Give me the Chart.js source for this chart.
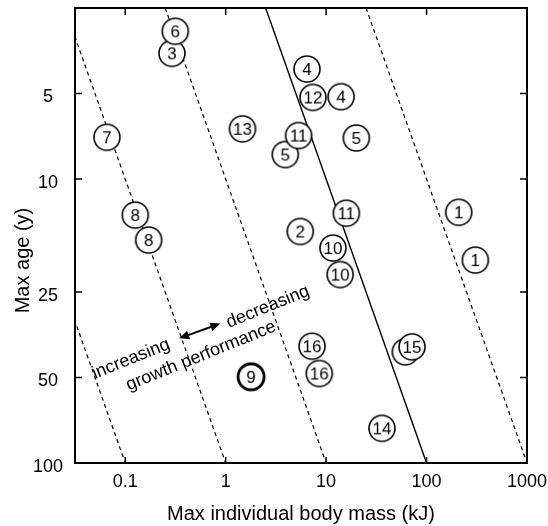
<!DOCTYPE html>
<html><head><meta charset="utf-8">
<script src="https://cdn.jsdelivr.net/npm/chart.js@4/dist/chart.umd.min.js"></script>
<style>html,body{margin:0;padding:0;background:#fff}#wrap{width:548px;height:526px;position:relative}</style>
</head><body><div id="wrap"><canvas id="c" width="548" height="526"></canvas></div>
<script>
// ---- data ----
const pointLabels = ['14','9','16','16','','15','10','10','2','1','1','11','8','8','5','11','5','7','13','12','4','4','3','6'];
const pointMass   = [36.0,1.79,8.55,7.24,61.5,71.7,13.8,11.7,5.53,306,209,15.9,0.171,0.126,3.92,5.32,20.0,0.0657,1.47,7.40,14.1,6.45,0.292,0.315];
const pointAge    = [75.5,49.7,48.4,38.8,40.6,39.0,21.7,17.5,15.3,19.3,13.1,13.2,16.4,13.4,8.20,7.03,7.17,7.13,6.66,5.16,5.13,4.10,3.61,3.02];
const boldLabels  = ['9'];
const xTickValues = [0.1,1,10,100,1000];
const yTickValues = [5,10,25,50,100];
const guideStartMass = [0.0025,0.025,0.25,2.5,25];
const guideEndMass   = [0.1,1,10,100,1000];
const guideAges      = [2.5,100];
const guideSolid     = [false,false,false,true,false];
const noteTexts = ['increasing','decreasing','growth performance'];
const noteMass  = [0.1143,2.63,0.569];
const noteAge   = [43.0,28.2,42.0];
const arrowMass = [0.345,0.884];
const arrowAge  = [36.4,32.3];

const FONT = "'Liberation Sans', Arial, Helvetica, sans-serif";
const INK = '#000';

function makeMarker(label, bold){
  const c = document.createElement('canvas');
  c.width = 34; c.height = 34;
  const g = c.getContext('2d');
  g.beginPath(); g.arc(17,17,13,0,Math.PI*2);
  g.fillStyle = '#fff'; g.fill();
  g.lineWidth = bold ? 2.8 : 1.6; g.strokeStyle = INK; g.stroke();
  g.fillStyle = INK; g.font = '17px ' + FONT;
  g.textAlign = 'center'; g.textBaseline = 'middle';
  g.fillText(label, 17, 18);
  return c;
}

const points = pointMass.map((m,i)=>({x:m, y:pointAge[i]}));
const markers = pointLabels.map(l => makeMarker(l, boldLabels.includes(l)));

const datasets = [{
  label: 'sites',
  data: points,
  pointStyle: markers,
  pointRadius: 13,
  order: 0
}];
guideStartMass.forEach((m,i)=>{
  datasets.push({
    label: 'guide'+i,
    data: [{x:m, y:guideAges[0]},{x:guideEndMass[i], y:guideAges[1]}],
    showLine: true,
    pointRadius: 0,
    borderColor: INK,
    borderWidth: guideSolid[i] ? 1.4 : 1.2,
    borderDash: guideSolid[i] ? [] : [4,3.5],
    order: 1
  });
});

const framePlugin = {
  id: 'frame',
  afterDatasetsDraw(chart){
    const {ctx, chartArea:a, scales:{x, y}} = chart;
    ctx.save();
    // annotations
    ctx.fillStyle = INK; ctx.font = '18px ' + FONT;
    ctx.textAlign = 'center'; ctx.textBaseline = 'middle';
    noteTexts.forEach((t,i)=>{
      const px = x.getPixelForValue(noteMass[i]), py = y.getPixelForValue(noteAge[i]);
      ctx.save(); ctx.translate(px,py); ctx.rotate(-22*Math.PI/180); ctx.fillText(t,0,0); ctx.restore();
    });
    // double arrow
    const x1 = x.getPixelForValue(arrowMass[0]), y1 = y.getPixelForValue(arrowAge[0]);
    const x2 = x.getPixelForValue(arrowMass[1]), y2 = y.getPixelForValue(arrowAge[1]);
    const ang = Math.atan2(y2-y1, x2-x1);
    const L = 10, W = 4.5;
    ctx.strokeStyle = INK; ctx.lineWidth = 2;
    ctx.beginPath();
    ctx.moveTo(x1 + Math.cos(ang)*L*0.8, y1 + Math.sin(ang)*L*0.8);
    ctx.lineTo(x2 - Math.cos(ang)*L*0.8, y2 - Math.sin(ang)*L*0.8);
    ctx.stroke();
    function head(hx,hy,dir){
      ctx.beginPath();
      ctx.moveTo(hx,hy);
      ctx.lineTo(hx - Math.cos(dir)*L + Math.sin(dir)*W, hy - Math.sin(dir)*L - Math.cos(dir)*W);
      ctx.lineTo(hx - Math.cos(dir)*L - Math.sin(dir)*W, hy - Math.sin(dir)*L + Math.cos(dir)*W);
      ctx.closePath(); ctx.fill();
    }
    head(x2,y2,ang); head(x1,y1,ang+Math.PI);
    // frame
    ctx.lineWidth = 2; ctx.strokeStyle = INK;
    ctx.strokeRect(a.left, a.top, a.right-a.left, a.bottom-a.top);
    ctx.lineWidth = 1.5;
    ctx.beginPath();
    xTickValues.forEach(v=>{
      const p = x.getPixelForValue(v);
      ctx.moveTo(p, a.bottom); ctx.lineTo(p, a.bottom-6);
      ctx.moveTo(p, a.top); ctx.lineTo(p, a.top+7);
    });
    yTickValues.forEach(v=>{
      const p = y.getPixelForValue(v);
      ctx.moveTo(a.left, p); ctx.lineTo(a.left+7, p);
      ctx.moveTo(a.right, p); ctx.lineTo(a.right-7, p);
    });
    ctx.stroke();
    // y title
    ctx.font = '20px ' + FONT; ctx.fillStyle = INK;
    ctx.translate(23, a.top + (a.bottom-a.top)*0.555);
    ctx.rotate(-Math.PI/2);
    ctx.textAlign = 'center'; ctx.textBaseline = 'middle';
    ctx.fillText('Max age (y)', 0, 0);
    ctx.restore();
  }
};

new Chart(document.getElementById('c'), {
  type: 'scatter',
  data: { datasets },
  options: {
    responsive: false,
    animation: false,
    events: [],
    layout: { autoPadding: false, padding: { top: 8, right: 21, left: 0, bottom: 0 } },
    plugins: { legend: { display: false }, tooltip: { enabled: false } },
    scales: {
      x: {
        type: 'logarithmic',
        min: Math.pow(10,-1.5), max: 1000,
        grid: { display: false, drawTicks: false },
        border: { display: false },
        afterBuildTicks: s => { s.ticks = xTickValues.map(v=>({value:v})); },
        afterFit: s => { s.height = 63; s.paddingLeft = 0; s.paddingRight = 0; },
        ticks: { color: INK, font: { family: FONT, size: 18 }, padding: 8, maxRotation: 0, autoSkip: false,
                 callback: v => String(v) },
        title: { display: true, text: 'Max individual body mass (kJ)', color: INK,
                 font: { family: FONT, size: 20 }, padding: { top: 0, bottom: 0 } }
      },
      y: {
        type: 'logarithmic',
        reverse: true,
        min: 2.5, max: 100,
        grid: { display: false, drawTicks: false },
        border: { display: false },
        afterBuildTicks: s => { s.ticks = yTickValues.map(v=>({value:v})); },
        afterFit: s => { s.width = 75; s.paddingTop = 0; s.paddingBottom = 0; },
        ticks: { color: INK, font: { family: FONT, size: 18 }, padding: 12, crossAlign: 'center',
                 labelOffset: 4, autoSkip: false, callback: v => String(v) }
      }
    }
  },
  plugins: [framePlugin]
});
</script></body></html>
